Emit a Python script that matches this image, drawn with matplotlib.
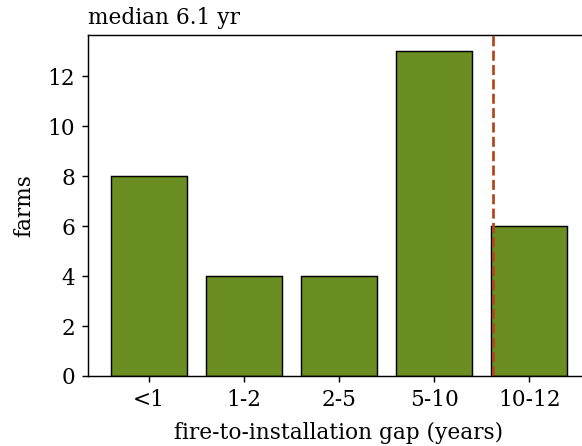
import matplotlib
matplotlib.use('Agg')
import matplotlib.pyplot as plt

# --- data ---
categories = ['<1', '1-2', '2-5', '5-10', '10-12']
farms = [8, 4, 4, 13, 6]
median_pos = 3.62   # median 6.1 yr, placed on the category axis
title = 'median 6.1 yr'

plt.rcParams['font.family'] = 'DejaVu Serif'

DPI = 130
fig = plt.figure(figsize=(582 / DPI, 446 / DPI), dpi=DPI)
ax = fig.add_axes([88 / 582, 70 / 446, 502 / 582, 341 / 446])

x = range(len(categories))
ax.bar(x, farms, width=0.8, color='#6b8e23', edgecolor='black', linewidth=0.8)
ax.axvline(median_pos, color='#b5441b', linestyle='--', linewidth=1.5)

ax.set_xticks(list(x))
ax.set_xticklabels(categories)
ax.set_xlim(-0.64, 4.64)
ax.set_ylim(0, 13.65)
ax.tick_params(labelsize=12)
ax.set_xlabel('fire-to-installation gap (years)', fontsize=12, labelpad=6)
ax.set_ylabel('farms', fontsize=12, labelpad=7)
ax.set_title(title, loc='left', fontsize=12)

plt.savefig('out.png', dpi=DPI)
plt.close()
